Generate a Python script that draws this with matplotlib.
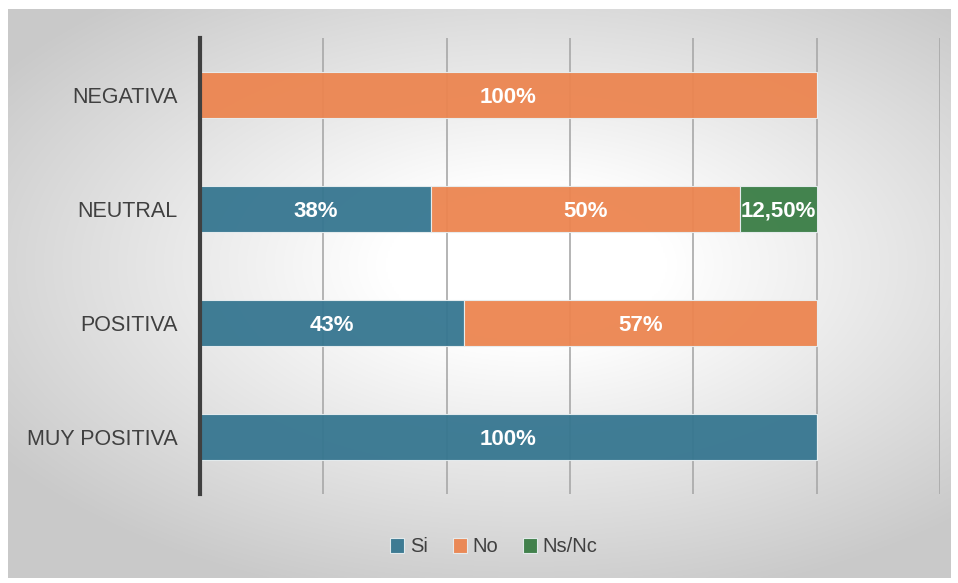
import numpy as np
import matplotlib.pyplot as plt

plt.rcParams['font.family'] = ['Liberation Sans', 'DejaVu Sans']

# 資料
categorias = ['MUY POSITIVA', 'POSITIVA', 'NEUTRAL', 'NEGATIVA']
si = [1.0, 3 / 7, 0.375, 0.0]
no = [0.0, 4 / 7, 0.5, 1.0]
nsnc = [0.0, 0.0, 0.125, 0.0]
etiquetas_si = ['100%', '43%', '38%', '']
etiquetas_no = ['', '57%', '50%', '100%']
etiquetas_nsnc = ['', '', '12,50%', '']
series = ['Si', 'No', 'Ns/Nc']
colores = ['#367690', '#ec8550', '#3a7d45']

fig = plt.figure(figsize=(9.58, 5.83), dpi=100)
fig.patch.set_facecolor('white')

# 背景 (漸層)
bg = fig.add_axes([8 / 958, 1 - 578 / 583, 942 / 958, 569 / 583])
yy, xx = np.mgrid[0:1:300j, 0:1:500j]
d = np.sqrt(((xx - 0.55) / 1.0) ** 2 + ((yy - 0.45) / 0.9) ** 2)
g = np.clip(1 - np.clip(d - 0.15, 0, None) * 0.4, 0.79, 1.0)
bg.imshow(np.dstack([g, g, g]), aspect='auto', extent=[0, 1, 0, 1], interpolation='bilinear')
bg.set_axis_off()

ax = fig.add_axes([200 / 958, 1 - 494 / 583, 740 / 958, 456 / 583])
ax.patch.set_alpha(0)
y = np.arange(len(categorias))
h = 0.4
left = np.zeros(len(categorias))
for vals, labs, name, c in zip([si, no, nsnc], [etiquetas_si, etiquetas_no, etiquetas_nsnc], series, colores):
    bars = ax.barh(y, vals, height=h, left=left, color=c, edgecolor='#e8eef0', linewidth=0.8,
                   label=name, zorder=3, alpha=0.95)
    for b, t in zip(bars, labs):
        if t:
            ax.text(b.get_x() + b.get_width() / 2, b.get_y() + h / 2, t, ha='center',
                    va='center_baseline', color='white', fontsize=16, fontweight='bold', zorder=4)
    left += np.array(vals)

ax.set_xlim(0, 1.2)
ax.set_ylim(-0.5, 3.5)
ax.set_xticks(np.arange(0.2, 1.21, 0.2))
ax.xaxis.grid(True, color='#a8a8a8', linewidth=1.2, zorder=1)
ax.set_axisbelow(True)
ax.tick_params(axis='x', length=0, labelbottom=False)
ax.tick_params(axis='y', length=0, labelsize=15.5, pad=16, labelcolor='#404040')
ax.set_yticks(y)
ax.set_yticklabels(categorias)
for s in ['top', 'right', 'bottom']:
    ax.spines[s].set_visible(False)
ax.spines['left'].set_color('#404040')
ax.spines['left'].set_linewidth(3)
ax.spines['left'].set_zorder(5)

leg = fig.legend(loc='center', bbox_to_anchor=(494 / 958, 1 - 547 / 583), ncol=3, frameon=False,
                 fontsize=14.5, handlelength=0.7, handleheight=0.7, handletextpad=0.3, columnspacing=1.2)
for t in leg.get_texts():
    t.set_color('#404040')

fig.savefig('out.png', dpi=100)
